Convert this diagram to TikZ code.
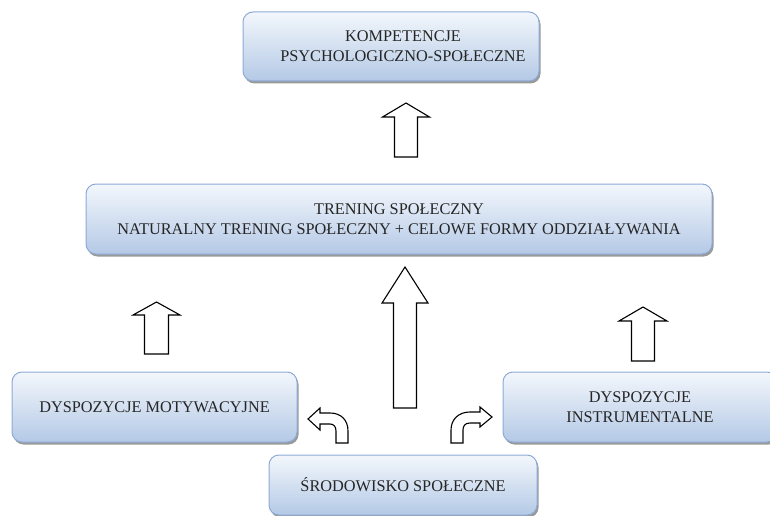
\documentclass[tikz,border=0pt]{standalone}
\usepackage{fontspec}
\setmainfont{Liberation Serif}
\usetikzlibrary{shadows}
\definecolor{boxedge}{HTML}{8DAAD6}
\definecolor{boxtop}{HTML}{F3F7FC}
\definecolor{boxbottom}{HTML}{B4C9E6}
\definecolor{ink}{HTML}{262626}

% hollow upward block arrow: centre x, tip y, head base y, bottom y, head half width, shaft half width
\newcommand\hollowup[6]{%
  \draw[blockarrow] (#1,#2) -- ({#1+#5},#3) -- ({#1+#6},#3) -- ({#1+#6},#4)
    -- ({#1-#6},#4) -- ({#1-#6},#3) -- ({#1-#5},#3) -- cycle;}

\begin{document}
\begin{tikzpicture}[x=1pt,y=-1pt,
  panel/.style={draw=boxedge, line width=1pt, rounded corners=10pt,
    top color=boxtop, bottom color=boxbottom, inner sep=0pt,
    drop shadow={shadow xshift=1.5pt, shadow yshift=-2.5pt, fill=black, opacity=0.4}},
  boxtext/.style={font=\fontsize{16.3}{19.5}\selectfont, align=center, text=ink, inner sep=0pt},
  blockarrow/.style={draw=black, line width=1.1pt, fill=white, line join=miter}]
\useasboundingbox (0,0) rectangle (770,516);

% panels
\node[panel, minimum width=296pt, minimum height=69pt] (komp) at (391,46.5) {};
\node[boxtext] (kompt) at (403,46) {KOMPETENCJE\\PSYCHOLOGICZNO-SPOŁECZNE};

\node[panel, boxtext, minimum width=626pt, minimum height=70pt] (trening) at (399,219)
  {TRENING SPOŁECZNY\\NATURALNY TRENING SPOŁECZNY + CELOWE FORMY ODDZIAŁYWANIA};

\node[panel, boxtext, minimum width=285pt, minimum height=70pt] (motyw) at (154.5,407)
  {DYSPOZYCJE MOTYWACYJNE};

\node[panel, boxtext, minimum width=274pt, minimum height=70pt] (instr) at (640,407)
  {DYSPOZYCJE\\INSTRUMENTALNE};

\node[panel, boxtext, minimum width=268pt, minimum height=60pt] (srod) at (403,485)
  {ŚRODOWISKO SPOŁECZNE};

% straight block arrows
\hollowup{406}{103}{117}{157}{23.5}{11.5}
\hollowup{156.5}{302}{315}{354}{23.5}{12}
\hollowup{405}{267}{303}{408}{23}{11.5}
\hollowup{643}{307}{321}{361}{24}{11.5}

% bent block arrows
\draw[blockarrow] (308,419) -- (320,408) -- (320,413) -- (330,413)
  .. controls (341,413) and (348,420) .. (348,431) -- (348,443) -- (336,443) -- (336,431)
  .. controls (336,427) and (334,424) .. (330,424) -- (320,424) -- (320,430) -- cycle;
\draw[blockarrow] (492,417) -- (480,407) -- (480,412) -- (470,412)
  .. controls (459,412) and (451,419) .. (451,430) -- (451,443) -- (463,443) -- (463,430)
  .. controls (463,426) and (465,423) .. (470,423) -- (480,423) -- (480,427) -- cycle;
\end{tikzpicture}
\end{document}
